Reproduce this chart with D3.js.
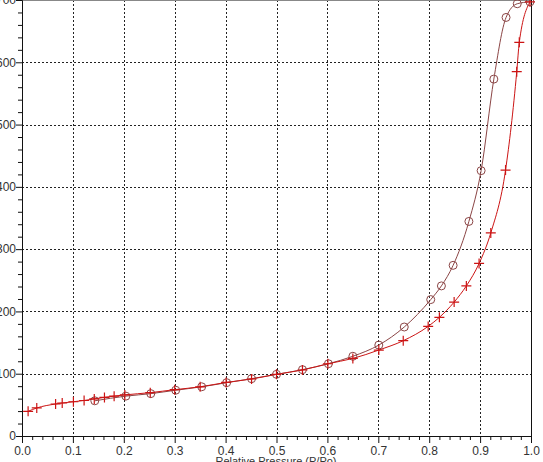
<!DOCTYPE html>
<html>
<head>
<meta charset="utf-8">
<script src="https://cdn.jsdelivr.net/npm/d3@7"></script>
<style>
    body { margin: 0; background: #fff; }
    svg { display: block; font-family: "Liberation Sans", Arial, sans-serif; }
</style>
</head>
<body>
<svg id="chart"></svg>
<script>
// adsorption branch (crosses)
const adsP = [0.012, 0.029, 0.066, 0.079, 0.101, 0.122, 0.142, 0.162, 0.181, 0.202,
    0.252, 0.300, 0.350, 0.401, 0.451, 0.500, 0.551, 0.601, 0.650, 0.701,
    0.749, 0.798, 0.820, 0.849, 0.873, 0.898, 0.921, 0.950, 0.972, 0.977, 0.998];
const adsV = [39.6, 45, 51.4, 53, 55, 57, 59.5, 62, 64, 66,
    69.6, 74.4, 79, 86, 91.5, 99, 106, 116, 124.5, 138,
    153, 176, 190.5, 215, 241, 277, 326, 427, 585, 632, 697];

// desorption branch (circles)
const desP = [0.998, 0.973, 0.951, 0.927, 0.902, 0.878, 0.847, 0.824, 0.803, 0.751,
    0.701, 0.650, 0.602, 0.551, 0.500, 0.451, 0.402, 0.353, 0.302, 0.253, 0.204, 0.143];
const desV = [697, 694, 672, 573, 426, 344.5, 274, 241, 219, 175,
    146, 128, 116, 106.5, 99, 92, 85.6, 79, 73.5, 68, 64, 56.5];

const xTicks = [0.0, 0.1, 0.2, 0.3, 0.4, 0.5, 0.6, 0.7, 0.8, 0.9, 1.0];
const yTicks = [0, 100, 200, 300, 400, 500, 600, 700];
const xLabel = 'Relative Pressure (P/Po)';

const width = 543;
const height = 462;
const plotLeft = 22, plotRight = 531, plotTop = 0, plotBottom = 436;

const svg = d3.select('#chart')
    .attr('width', width)
    .attr('height', height);

const x = d3.scaleLinear().domain([0, 1]).range([plotLeft, plotRight]);
const y = d3.scaleLinear().domain([0, 700]).range([plotBottom, plotTop]);

const isMajorX = d => xTicks.some(t => Math.abs(t - d) < 1e-9);

// grid
const grid = svg.append('g')
    .attr('stroke', '#222')
    .attr('stroke-width', 1)
    .attr('stroke-dasharray', '2,2')
    .attr('shape-rendering', 'crispEdges');
grid.selectAll('.gx')
    .data(xTicks.slice(1, -1))
    .enter().append('line')
    .attr('x1', d => Math.round(x(d)) + 0.5)
    .attr('x2', d => Math.round(x(d)) + 0.5)
    .attr('y1', plotTop)
    .attr('y2', plotBottom);
grid.selectAll('.gy')
    .data(yTicks.slice(1, -1))
    .enter().append('line')
    .attr('y1', d => Math.round(y(d)) + 0.5)
    .attr('y2', d => Math.round(y(d)) + 0.5)
    .attr('x1', plotLeft)
    .attr('x2', plotRight);

// frame
svg.append('line')
    .attr('x1', plotLeft).attr('x2', plotRight)
    .attr('y1', 0.5).attr('y2', 0.5)
    .attr('stroke', '#888')
    .attr('shape-rendering', 'crispEdges');
svg.append('line')
    .attr('x1', plotRight + 0.5).attr('x2', plotRight + 0.5)
    .attr('y1', plotTop).attr('y2', plotBottom)
    .attr('stroke', '#111')
    .attr('shape-rendering', 'crispEdges');

// axes
const xAxis = d3.axisBottom(x)
    .tickValues(d3.range(0, 51).map(i => i / 50))
    .tickSize(4)
    .tickFormat(d => isMajorX(d) ? d3.format('.1f')(d) : '');
const gx = svg.append('g')
    .attr('transform', `translate(0,${plotBottom})`)
    .call(xAxis);
gx.selectAll('.tick line')
    .attr('y2', d => isMajorX(d) ? 7 : 4);
gx.selectAll('.tick text')
    .attr('y', 10)
    .attr('dy', '0.71em');

const yAxis = d3.axisLeft(y)
    .tickValues(d3.range(0, 36).map(i => i * 20))
    .tickSize(4)
    .tickFormat(d => d % 100 === 0 ? d : '');
const gy = svg.append('g')
    .attr('transform', `translate(${plotLeft},0)`)
    .call(yAxis);
gy.selectAll('.tick line')
    .attr('x2', d => d % 100 === 0 ? -6 : -4);
gy.selectAll('.tick text')
    .attr('x', -6);

svg.selectAll('.domain').attr('stroke', '#111');
svg.selectAll('.tick line').attr('stroke', '#111');
svg.selectAll('.tick text')
    .attr('font-size', 12)
    .attr('font-family', '"Liberation Sans", Arial, sans-serif')
    .attr('fill', '#333');

svg.append('text')
    .attr('x', 276)
    .attr('y', 465)
    .attr('text-anchor', 'middle')
    .attr('font-size', 11)
    .attr('fill', '#333')
    .text(xLabel);

// series
const adsData = adsP.map((p, i) => [p, adsV[i]]);
const desData = desP.map((p, i) => [p, desV[i]]).sort((a, b) => a[0] - b[0]);

const line = d3.line()
    .x(d => x(d[0]))
    .y(d => y(d[1]))
    .curve(d3.curveMonotoneX);

const adsColor = '#cc1414';
const desColor = '#8b4545';

svg.append('path')
    .datum(desData)
    .attr('d', line)
    .attr('fill', 'none')
    .attr('stroke', desColor)
    .attr('stroke-width', 1);

svg.append('path')
    .datum(adsData)
    .attr('d', line)
    .attr('fill', 'none')
    .attr('stroke', adsColor)
    .attr('stroke-width', 1);

svg.selectAll('.circ')
    .data(desData)
    .enter().append('circle')
    .attr('cx', d => x(d[0]))
    .attr('cy', d => y(d[1]))
    .attr('r', 4)
    .attr('fill', 'none')
    .attr('stroke', desColor)
    .attr('stroke-width', 1);

svg.selectAll('.cross')
    .data(adsData)
    .enter().append('path')
    .attr('d', d => {
        const cx = x(d[0]), cy = y(d[1]);
        return `M${cx - 5},${cy}H${cx + 5}M${cx},${cy - 5}V${cy + 5}`;
    })
    .attr('stroke', adsColor)
    .attr('stroke-width', 1.2);
</script>
</body>
</html>
